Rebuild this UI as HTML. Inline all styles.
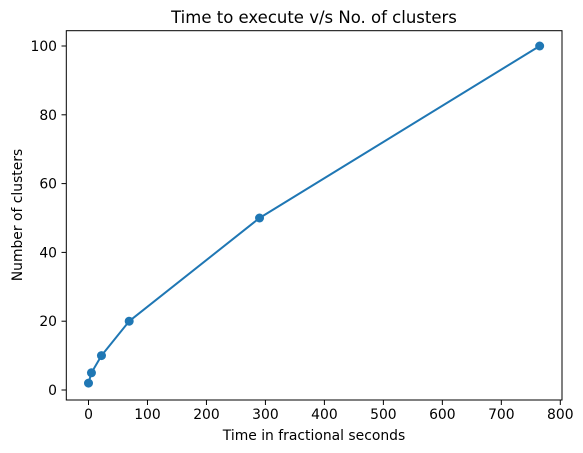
<!DOCTYPE html>
<html><head><meta charset="utf-8"><style>
html,body{margin:0;padding:0;background:#fff}
svg{display:block;font-family:"DejaVu Sans","Liberation Sans",sans-serif}
</style></head><body>
<svg id="chart" width="583" height="453" viewBox="0 0 583 453" xmlns="http://www.w3.org/2000/svg">
<rect x="0" y="0" width="583" height="453" fill="#fff"/>
<text x="314" y="23" text-anchor="middle" font-size="16.5" fill="#000">Time to execute v/s No. of clusters</text>
<g id="xticks"></g>
<g id="yticks"></g>
<g id="series"></g>
<rect x="66.3" y="30.7" width="495.7" height="369.3" fill="none" stroke="#000" stroke-width="1"/>
<text x="314" y="440" text-anchor="middle" font-size="13.9" fill="#000">Time in fractional seconds</text>
<text transform="translate(22,215) rotate(-90)" text-anchor="middle" font-size="13.9" fill="#000">Number of clusters</text>
</svg>
<script>
const xValues = [0, 5, 22, 69, 290, 765];
const yValues = [2, 5, 10, 20, 50, 100];
const xTickLabels = [0, 100, 200, 300, 400, 500, 600, 700, 800];
const yTickLabels = [0, 20, 40, 60, 80, 100];

const NS = "http://www.w3.org/2000/svg";
function xs(v){ return 88.5 + v * (560.3 - 88.5) / 800; }
function ys(v){ return 390 - v * (390 - 46) / 100; }
function mk(tag, attrs, parent){
  const e = document.createElementNS(NS, tag);
  for (const k in attrs) e.setAttribute(k, attrs[k]);
  parent.appendChild(e);
  return e;
}
const gx = document.getElementById('xticks');
xTickLabels.forEach(v => {
  const x = xs(v);
  const t = mk('line', {x1:x, x2:x, y1:400, y2:405, stroke:'#000', 'stroke-width':1}, gx);
  
  
  const l = mk('text', {x:x, y:419, 'text-anchor':'middle', 'font-size':13.9, fill:'#000'}, gx);
  l.textContent = v;
  
  
});
const gy = document.getElementById('yticks');
yTickLabels.forEach(v => {
  const y = ys(v);
  const t = mk('line', {x1:61.5, x2:66.3, y1:y, y2:y, stroke:'#000', 'stroke-width':1}, gy);
  
  
  const l = mk('text', {x:57, y:y + 5, 'text-anchor':'end', 'font-size':13.9, fill:'#000'}, gy);
  l.textContent = v;
  
  
});
const gs = document.getElementById('series');
const pts = xValues.map((v, i) => xs(v).toFixed(2) + ',' + ys(yValues[i]).toFixed(2)).join(' ');
const line = mk('polyline', {points:pts, fill:'none', stroke:'#1f77b4', 'stroke-width':2, 'stroke-linejoin':'round'}, gs);


xValues.forEach((v, i) => {
  const c = mk('circle', {cx:xs(v), cy:ys(yValues[i]), r:4.5, fill:'#1f77b4'}, gs);
  
  
});
</script>
</body></html>
